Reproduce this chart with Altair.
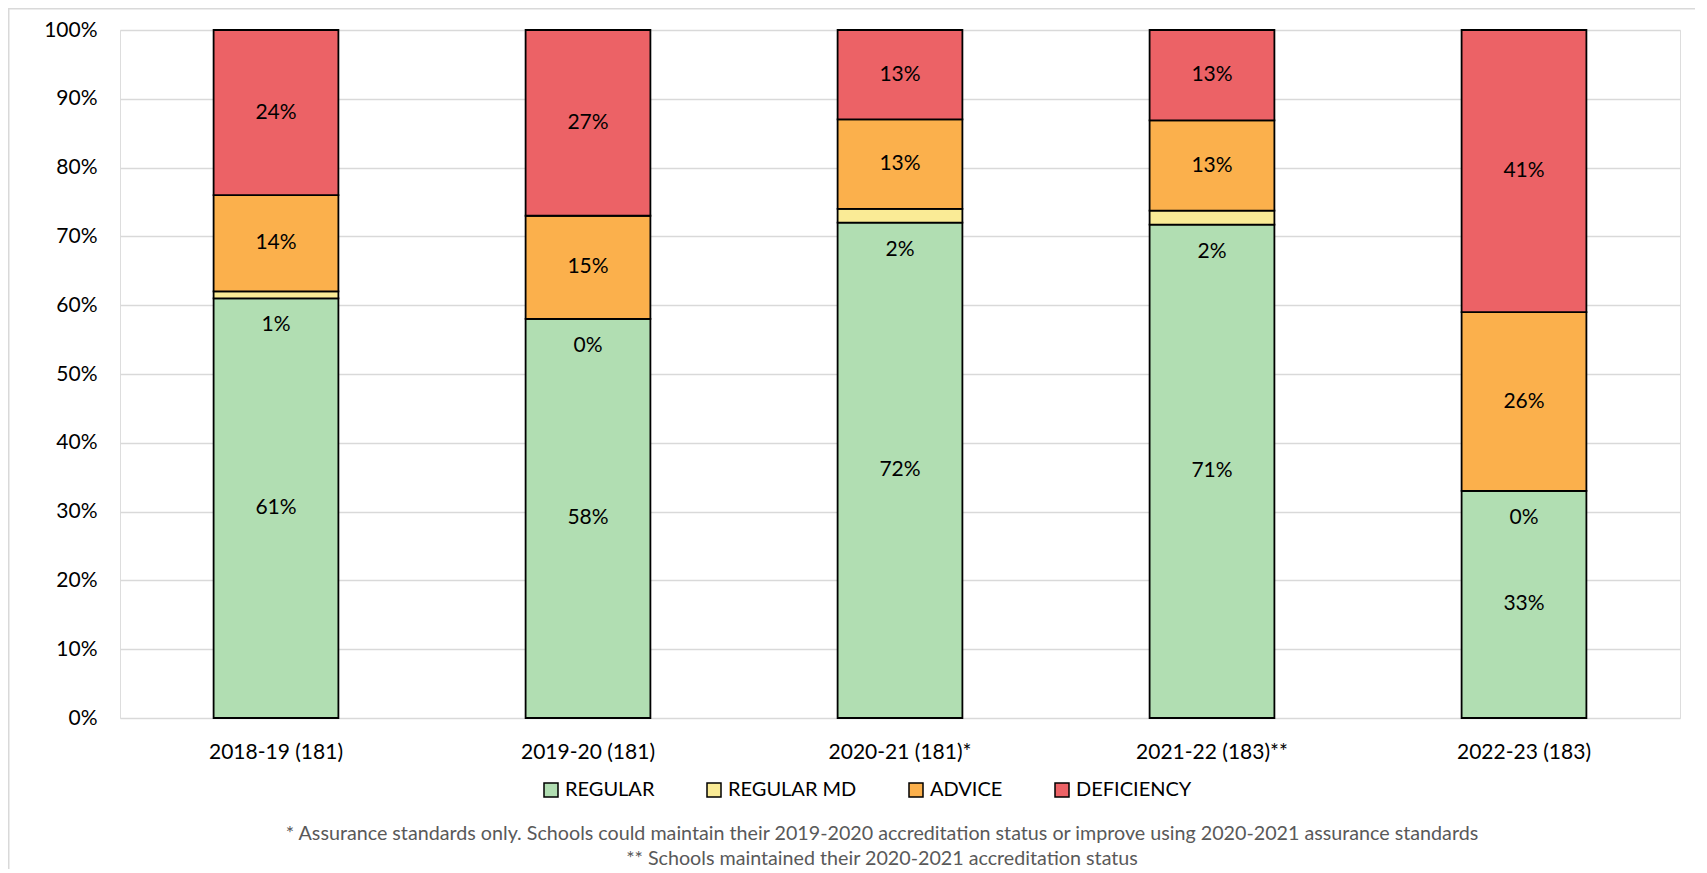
import altair as alt
import pandas as pd

years = ["2018-19 (181)", "2019-20 (181)", "2020-21 (181)*", "2021-22 (183)**", "2022-23 (183)"]
statuses = ["REGULAR", "REGULAR MD", "ADVICE", "DEFICIENCY"]
regular = [61, 58, 72, 71, 33]
regular_md = [1, 0, 2, 2, 0]
advice = [14, 15, 13, 13, 26]
deficiency = [24, 27, 13, 13, 41]
colors = ["#B1DEB2", "#FAEB96", "#FBB04C", "#EC6266"]
footnotes = [
    "* Assurance standards only. Schools could maintain their 2019-2020 accreditation status or improve using 2020-2021 assurance standards",
    "** Schools maintained their 2020-2021 accreditation status",
]
y_ticks = [0, 0.1, 0.2, 0.3, 0.4, 0.5, 0.6, 0.7, 0.8, 0.9, 1.0]

rows = []
for s_i, (status, vals) in enumerate(zip(statuses, [regular, regular_md, advice, deficiency])):
    for yr, v in zip(years, vals):
        rows.append({"year": yr, "status": status, "value": v, "order": s_i, "label": f"{v}%"})
df = pd.DataFrame(rows)

FONT = "Lato"
FS = 21
W, H = 1560, 688
PAD = {"left": 112, "top": 22, "right": 15, "bottom": 151}

x_enc = alt.X(
    "year:N", sort=years, title=None,
    scale=alt.Scale(paddingInner=0.6, paddingOuter=0.3),
    axis=alt.Axis(title=None, labelAngle=0, labelFont=FONT, labelFontSize=FS,
                  labelColor="#000000", labelPadding=23, ticks=False, domain=False, grid=False),
)

y_axis = alt.Axis(title=None, format=".0%", values=y_ticks, labelFont=FONT, labelFontSize=FS,
                  labelColor="#000000", labelPadding=23, ticks=False, domain=False,
                  grid=True, gridColor="#D9D9D9", gridWidth=1.5)

bars = alt.Chart(df).mark_bar(stroke="black", strokeWidth=1.8).encode(
    x=x_enc,
    y=alt.Y("value:Q", stack="normalize", title=None, scale=alt.Scale(domain=[0, 1]), axis=y_axis),
    color=alt.Color(
        "status:N",
        scale=alt.Scale(domain=statuses, range=colors),
        legend=alt.Legend(title=None, orient="none", legendX=421, legendY=750,
                          direction="horizontal", columns=4, symbolType="square",
                          symbolSize=196, symbolStrokeColor="black", symbolStrokeWidth=1.5,
                          symbolOpacity=1, labelFont=FONT, labelFontSize=20, labelColor="#000000",
                          labelOffset=4, columnPadding=49, padding=0, labelLimit=400),
    ),
    order=alt.Order("order:Q", sort="ascending"),
)

stacked = alt.Chart(df).transform_stack(
    stack="value", as_=["y0", "y1"], groupby=["year"],
    sort=[alt.SortField(field="order", order="ascending")], offset="normalize",
).transform_calculate(mid="(datum.y0 + datum.y1) / 2")

big = stacked.transform_filter("datum.status != 'REGULAR MD'").mark_text(
    font=FONT, fontSize=FS, color="#000000"
).encode(x=x_enc, y=alt.Y("mid:Q", title=None, axis=y_axis), text="label:N")

small = stacked.transform_filter("datum.status == 'REGULAR MD'").mark_text(
    font=FONT, fontSize=FS, color="#000000", dy=27
).encode(x=x_enc, y=alt.Y("y0:Q", title=None, axis=y_axis), text="label:N")

frame_df = pd.DataFrame({"k": [0]})
border_top = alt.Chart(frame_df).mark_rule(color="#D9D9D9", strokeWidth=1.5).encode(
    x=alt.value(-PAD["left"]), x2=alt.value(W + PAD["right"]), y=alt.value(-PAD["top"] + 0.75)
)
border_left = alt.Chart(frame_df).mark_rule(color="#D9D9D9", strokeWidth=1.5).encode(
    x=alt.value(-PAD["left"] + 0.75), y=alt.value(-PAD["top"]), y2=alt.value(H + PAD["bottom"])
)
notes = alt.Chart(frame_df).mark_text(
    font=FONT, fontSize=19.7, color="#595959", align="center", baseline="alphabetic", lineHeight=25
).encode(x=alt.value(762), y=alt.value(810), text=alt.value(footnotes))

chart = alt.layer(border_top, border_left, bars, big, small, notes).properties(
    width=W, height=H, padding=PAD,
    autosize=alt.AutoSizeParams(type="none"),
).configure_view(strokeWidth=0).configure(background="white")

chart.save("out.html", embed_options={"renderer": "svg", "actions": False})
